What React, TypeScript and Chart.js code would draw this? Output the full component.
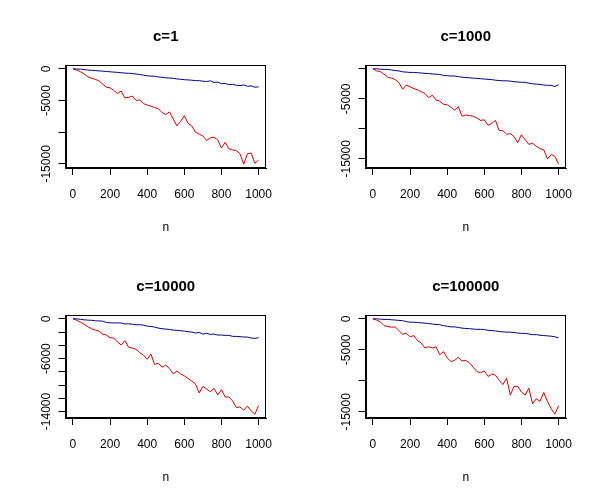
import { useEffect, useRef } from "react";
import { Chart, registerables } from "chart.js";

Chart.register(...registerables);

const FONT = "Arial, 'Liberation Sans', sans-serif";
const RED = "#CD0000";
const BLUE = "#00008B";

const n = [
  0, 20, 40, 60, 80, 100, 120, 140, 160, 180, 200, 220, 240, 260, 280, 300, 320,
  340, 360, 380, 400, 420, 440, 460, 480, 500, 520, 540, 560, 580, 600, 620, 640,
  660, 680, 700, 720, 740, 760, 780, 800, 820, 840, 860, 880, 900, 920, 940, 960,
  980, 1000,
];

const xTicks = [0, 200, 400, 600, 800, 1000];

const titles = ["c=1", "c=1000", "c=10000", "c=100000"];

const red1 = [
  0, -180, -450, -800, -1250, -1500, -1650, -1900, -2400, -2900, -3000, -3400,
  -3900, -3500, -4600, -4500, -4300, -5000, -4900, -5500, -5700, -5900, -6100,
  -6300, -6900, -7200, -6800, -7900, -9000, -8300, -7400, -8600, -9000, -10000,
  -10300, -10600, -11300, -10900, -10800, -11200, -12500, -11600, -12600, -12800,
  -12900, -13400, -15050, -13400, -13300, -14900, -14400,
];
const blue1 = [
  0, -30, -60, -120, -200, -230, -280, -330, -360, -430, -470, -520, -560, -620,
  -680, -700, -760, -820, -900, -1000, -1100, -1150, -1180, -1280, -1350, -1420,
  -1450, -1500, -1600, -1650, -1720, -1750, -1800, -1850, -1880, -1950, -2000,
  -1900, -2150, -2100, -2350, -2300, -2500, -2450, -2600, -2650, -2550, -2750,
  -2700, -2900, -2850,
];

const red2 = [
  0, -350, -450, -900, -1400, -1550, -1800, -2300, -3400, -2700, -3000, -3300,
  -3500, -3800, -4100, -4800, -4400, -5200, -5400, -5900, -6000, -6400, -6900,
  -6300, -7900, -7700, -7800, -7900, -8200, -8600, -8500, -9400, -9100, -8600,
  -10300, -10300, -10900, -10800, -11300, -12300, -11000, -11800, -12600, -12400,
  -12900, -13300, -13500, -15000, -14300, -14600, -15900,
];
const blue2 = [
  0, 0, -60, -100, -100, -200, -300, -350, -500, -550, -600, -600, -650, -700,
  -750, -800, -850, -900, -950, -1100, -1150, -1200, -1200, -1300, -1400, -1450,
  -1500, -1550, -1600, -1650, -1700, -1750, -1800, -1900, -1950, -2000, -2000,
  -2050, -2150, -2200, -2250, -2250, -2400, -2500, -2550, -2600, -2700, -2750,
  -2750, -2950, -2650,
];

const red3 = [
  0, -200, -500, -800, -1200, -1500, -1700, -1850, -2300, -2450, -2850, -2900,
  -3500, -3950, -3300, -4300, -4400, -4600, -5100, -5500, -6100, -5300, -6900,
  -6700, -7300, -7000, -7500, -8300, -7900, -8300, -8600, -9000, -9400, -9800,
  -11200, -10200, -10600, -11000, -10500, -11500, -10700, -11800, -11800, -12400,
  -13400, -13300, -13800, -13200, -13900, -14400, -13100,
];
const blue3 = [
  0, 0, -80, -150, -200, -220, -300, -320, -350, -550, -600, -620, -620, -630,
  -780, -750, -820, -900, -880, -960, -1100, -1150, -1250, -1400, -1500, -1550,
  -1600, -1700, -1750, -1800, -1850, -1950, -2000, -2150, -2050, -2300, -2200,
  -2350, -2300, -2450, -2450, -2500, -2500, -2650, -2650, -2700, -2750, -2750,
  -2900, -2950, -2850,
];

const red4 = [
  0, -200, -500, -1100, -1250, -1350, -1300, -1900, -2500, -2300, -2900, -2700,
  -3500, -3900, -4700, -4500, -4700, -4500, -5800, -5300, -6300, -6900, -6700,
  -6200, -6800, -6700, -7100, -7800, -8500, -8700, -8400, -9300, -8900, -9100,
  -9900, -10600, -9600, -12300, -10900, -10900, -11800, -12300, -11200, -13700,
  -12900, -13300, -11900, -13300, -14500, -15380, -14000,
];
const blue4 = [
  0, 0, -50, -100, -100, -150, -200, -250, -300, -450, -550, -550, -600, -650,
  -700, -750, -850, -900, -950, -1100, -1200, -1300, -1300, -1400, -1500, -1550,
  -1600, -1650, -1700, -1700, -1750, -1850, -1900, -1950, -2050, -2100, -2150,
  -2150, -2200, -2300, -2350, -2350, -2450, -2550, -2550, -2650, -2700, -2750,
  -2800, -2900, -3050,
];

const yTicks5k = [0, -5000, -10000, -15000];
const yTicks2k = [0, -2000, -4000, -6000, -8000, -10000, -12000, -14000];
const yLabels1 = ["0", "-5000", "", "-15000"];
const yLabels2 = ["", "-5000", "", "-15000"];
const yLabels3 = ["0", "", "", "-6000", "", "", "", "-14000"];
const yLabels4 = ["0", "-5000", "", "-15000"];

// box round the plot region + rotated y tick labels, R style
const rBox = {
  id: "rBox",
  afterDraw(chart: any, _args: any, opts: any) {
    const { ctx, chartArea: a } = chart;
    const y = chart.scales.y;
    ctx.save();
    ctx.strokeStyle = "#000";
    ctx.lineWidth = 1;
    const l = Math.round(a.left) + 0.5;
    const t = Math.round(a.top) + 0.5;
    const r = Math.round(a.right) - 0.5;
    const b = Math.round(a.bottom) - 0.5;
    ctx.strokeRect(l, t, r - l, b - t);
    ctx.fillStyle = "#000";
    ctx.font = `12px ${FONT}`;
    ctx.textAlign = "center";
    ctx.textBaseline = "alphabetic";
    opts.ticks.forEach((v: number, i: number) => {
      const label = opts.labels[i];
      if (!label) return;
      ctx.save();
      ctx.translate(49.5, y.getPixelForValue(v));
      ctx.rotate(-Math.PI / 2);
      ctx.fillText(label, 0, 0);
      ctx.restore();
    });
    ctx.restore();
  },
};

type PanelProps = {
  title: string;
  red: number[];
  blue: number[];
  yTicks: number[];
  yLabels: string[];
};

const Panel = ({ title, red, blue, yTicks, yLabels }: PanelProps) => {
  const canvasRef = useRef<HTMLCanvasElement | null>(null);

  useEffect(() => {
    if (!canvasRef.current) return;
    const lo = Math.min(...red, ...blue);
    const hi = Math.max(...red, ...blue);
    const pad = (hi - lo) * 0.04;
    const axisGrid = {
      drawOnChartArea: false,
      drawTicks: true,
      tickLength: 7,
      color: "#000",
      lineWidth: 1,
    };

    const chart = new Chart(canvasRef.current, {
      type: "line",
      data: {
        datasets: [
          {
            label: "blue",
            data: n.map((x, i) => ({ x, y: blue[i] })),
            borderColor: BLUE,
            borderWidth: 1,
            pointRadius: 0,
            tension: 0,
          },
          {
            label: "red",
            data: n.map((x, i) => ({ x, y: red[i] })),
            borderColor: RED,
            borderWidth: 1,
            pointRadius: 0,
            tension: 0,
          },
        ],
      },
      options: {
        responsive: false,
        animation: false,
        layout: { padding: { left: 0, right: 34, top: 0, bottom: 0 } },
        plugins: {
          legend: { display: false },
          tooltip: { enabled: false },
          title: {
            display: true,
            text: title,
            fullSize: false,
            color: "#000",
            font: { family: FONT, size: 15, weight: "bold" },
            padding: { top: 28, bottom: 19 },
          },
          rBox: { ticks: yTicks, labels: yLabels },
        } as any,
        scales: {
          x: {
            type: "linear",
            min: -40,
            max: 1040,
            afterBuildTicks: (s: any) => {
              s.ticks = xTicks.map((value) => ({ value }));
            },
            afterFit: (s: any) => {
              s.height = 82;
            },
            grid: axisGrid,
            border: { color: "#000" },
            ticks: {
              color: "#000",
              font: { family: FONT, size: 12 },
              padding: 12,
              maxRotation: 0,
              autoSkip: false,
              callback: (v: any) => String(v),
            },
            title: {
              display: true,
              text: "n",
              color: "#000",
              font: { family: FONT, size: 12 },
              padding: { top: 0, bottom: 15 },
            },
          },
          y: {
            type: "linear",
            min: lo - pad,
            max: hi + pad,
            afterBuildTicks: (s: any) => {
              s.ticks = yTicks.map((value) => ({ value }));
            },
            afterFit: (s: any) => {
              s.width = 65.5;
            },
            grid: axisGrid,
            border: { color: "#000" },
            ticks: { display: false },
          },
        },
      },
      plugins: [rBox],
    });

    return () => {
      chart.destroy();
    };
  }, [title, red, blue, yTicks, yLabels]);

  return (
    <canvas
      ref={canvasRef}
      width={300}
      height={250}
      style={{ display: "block" }}
    ></canvas>
  );
};

export default function App() {
  return (
    <div
      style={{
        position: "absolute",
        left: 0,
        top: 0,
        width: 600,
        height: 500,
        background: "#fff",
        display: "grid",
        gridTemplateColumns: "300px 300px",
        gridTemplateRows: "250px 250px",
      }}
    >
      <Panel title={titles[0]} red={red1} blue={blue1} yTicks={yTicks5k} yLabels={yLabels1} />
      <Panel title={titles[1]} red={red2} blue={blue2} yTicks={yTicks5k} yLabels={yLabels2} />
      <Panel title={titles[2]} red={red3} blue={blue3} yTicks={yTicks2k} yLabels={yLabels3} />
      <Panel title={titles[3]} red={red4} blue={blue4} yTicks={yTicks5k} yLabels={yLabels4} />
    </div>
  );
}
